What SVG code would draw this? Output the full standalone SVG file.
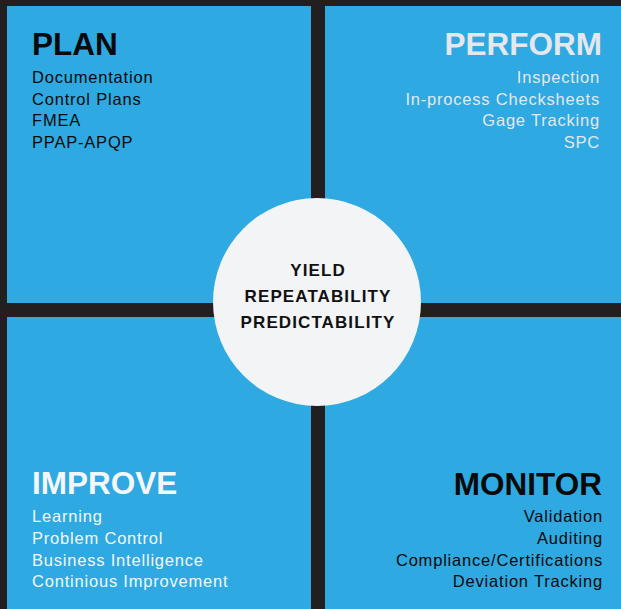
<svg xmlns="http://www.w3.org/2000/svg" width="621" height="609" viewBox="0 0 621 609">
<style>
.panel{fill:#2ea9e1}
.title{font-family:"Liberation Sans",Arial,sans-serif;font-weight:bold;font-size:31.5px}
.item{font-family:"Liberation Sans",Arial,sans-serif;font-size:16.5px;letter-spacing:0.8px}
.center{font-family:"Liberation Sans",Arial,sans-serif;font-weight:bold;font-size:17px;letter-spacing:1.1px;fill:#111;text-anchor:middle}
.dark{fill:#0a0a0a}
.light{fill:#e4e8ec}
.white{fill:#f4f7fa}
.r{text-anchor:end}
</style>
<rect x="0" y="0" width="621" height="609" fill="#231f20"/>
<g id="plan">
<rect class="panel" x="7" y="6" width="304" height="297"/>
<text class="title dark" x="32" y="55">PLAN</text>
<text class="item dark" x="32" y="83">Documentation</text>
<text class="item dark" x="32" y="104.5">Control Plans</text>
<text class="item dark" x="32" y="126">FMEA</text>
<text class="item dark" x="32" y="147.5">PPAP-APQP</text>
</g>
<g id="perform">
<rect class="panel" x="325" y="6" width="296" height="297"/>
<text class="title light r" x="602" y="55">PERFORM</text>
<text class="item light r" x="600" y="83">Inspection</text>
<text class="item light r" x="600" y="104.5">In-process Checksheets</text>
<text class="item light r" x="600" y="126">Gage Tracking</text>
<text class="item light r" x="600" y="147.5">SPC</text>
</g>
<g id="improve">
<rect class="panel" x="7" y="317" width="304" height="292"/>
<text class="title white" x="32" y="494">IMPROVE</text>
<text class="item white" x="32" y="522">Learning</text>
<text class="item white" x="32" y="544">Problem Control</text>
<text class="item white" x="32" y="565.5">Business Intelligence</text>
<text class="item white" x="32" y="587">Continious Improvement</text>
</g>
<g id="monitor">
<rect class="panel" x="325" y="317" width="296" height="292"/>
<text class="title dark r" x="602" y="495">MONITOR</text>
<text class="item dark r" x="603" y="522">Validation</text>
<text class="item dark r" x="603" y="544">Auditing</text>
<text class="item dark r" x="603" y="565.5">Compliance/Certifications</text>
<text class="item dark r" x="603" y="587">Deviation Tracking</text>
</g>
<g id="core">
<circle cx="317" cy="302" r="104" fill="#f3f4f6"/>
<text class="center" x="318" y="276">YIELD</text>
<text class="center" x="318" y="302">REPEATABILITY</text>
<text class="center" x="318" y="328">PREDICTABILITY</text>
</g>
<g id="connectors"/>
</svg>
